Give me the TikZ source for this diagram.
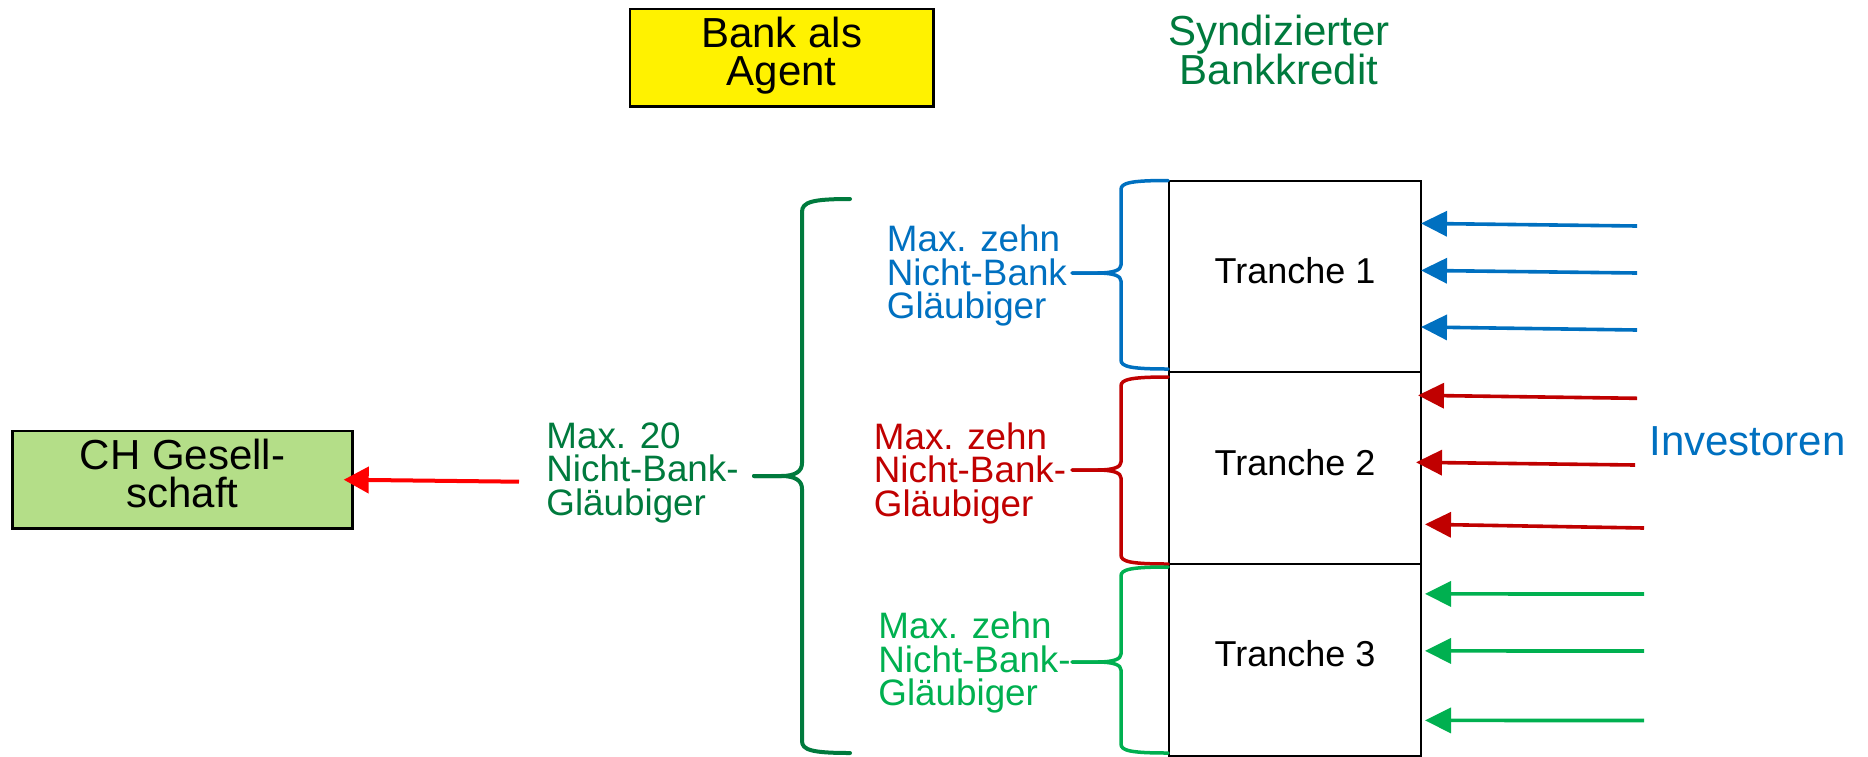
\documentclass[tikz,border=0pt]{standalone}
\usepackage{fontspec}
\setmainfont{Liberation Sans}
\usetikzlibrary{arrows.meta,calc}
\definecolor{dgreen}{RGB}{0,122,61}
\definecolor{lgreen}{RGB}{0,176,80}
\definecolor{tblue}{RGB}{0,112,192}
\definecolor{dred}{RGB}{192,0,0}
\definecolor{boxgreen}{RGB}{180,222,136}
\lineskiplimit=-\maxdimen
% curly brace opening to the right: colour, top y, tip y, bottom y
\newcommand\tranchebrace[4]{%
  \draw[brace,#1] (1168,#2) .. controls (1130,#2) and (1121,#2+2.5) .. (1121,#2+9)
    -- (1121,#3-8) .. controls (1121,#3-3) and (1114,#3) .. (1097,#3) -- (1072,#3);
  \draw[brace,#1] (1072,#3) -- (1097,#3) .. controls (1114,#3) and (1121,#3+3) .. (1121,#3+8)
    -- (1121,#4-9) .. controls (1121,#4-2.5) and (1130,#4) .. (1168,#4);
}
\begin{document}
\begin{tikzpicture}[x=0.5pt,y=-0.5pt,
  small/.style={font=\fontsize{18.4}{16.7}\selectfont, align=left, anchor=base west, inner sep=0pt},
  card/.style={draw=black, line width=1.25pt, inner sep=0pt, outer sep=0pt, align=center,
    font=\fontsize{21}{18.8}\selectfont},
  tranche/.style={draw=black, line width=1pt, minimum width=126pt, minimum height=95.8pt,
    inner sep=0pt, outer sep=0pt, font=\fontsize{18}{18}\selectfont},
  brace/.style={line width=1.75pt, line cap=round, line join=round},
  feed/.style={line width=1.8pt, -{Triangle[length=13pt,width=12.5pt]}},
]
\useasboundingbox (0,0) rectangle (1868,756);

% header boxes and titles
\node[card, fill=yellow, minimum width=151.65pt, minimum height=48.85pt] (bank) at (781.7,57.8)
  {Bank als\\Agent\rule[-6.4pt]{0pt}{6.4pt}};
\node[anchor=base, align=center, inner sep=0pt, text=dgreen,
  font=\fontsize{21}{19.2}\selectfont] (synd) at (1279,84) {Syndizierter\\Bankkredit};

% borrower
\node[card, fill=boxgreen, minimum width=170.2pt, minimum height=48.65pt] (ch) at (182.5,479.7)
  {CH Gesell-\\schaft\rule[-6.35pt]{0pt}{6.35pt}};

% tranches
\node[tranche] (t1) at (1295,276.5) {Tranche 1\rule[-6pt]{0pt}{6pt}};
\node[tranche] (t2) at (1295,468.1) {Tranche 2\rule[-6pt]{0pt}{6pt}};
\node[tranche] (t3) at (1295,659.7) {Tranche 3\rule[-6pt]{0pt}{6pt}};

% creditor labels (anchored at the baseline of their last line)
\node[small, text=dgreen] (all) at (546,515.1) {Max. 20\\Nicht-Bank-\\Gläubiger};
\node[small, text=tblue] (c1) at (886.5,318.4) {Max. zehn\\Nicht-Bank\\Gläubiger};
\node[small, text=dred] (c2) at (873.5,516.1) {Max. zehn\\Nicht-Bank-\\Gläubiger};
\node[small, text=lgreen] (c3) at (878,705.5) {Max. zehn\\Nicht-Bank-\\Gläubiger};
\node[anchor=base west, inner sep=0pt, text=tblue, font=\fontsize{21}{21}\selectfont]
  (inv) at (1649,455) {Investoren};

% braces
\draw[brace, dgreen, line width=2pt] (850,199) .. controls (812,199) and (802,202) .. (802,212)
  -- (802,463) .. controls (802,471) and (796,476) .. (781,476) -- (754,476);
\draw[brace, dgreen, line width=2pt] (754,476) -- (781,476) .. controls (796,476) and (802,481) .. (802,489)
  -- (802,741) .. controls (802,750) and (812,753) .. (850,753);
\tranchebrace{tblue}{180.5}{273}{369}
\tranchebrace{dred}{377}{470}{564}
\tranchebrace{lgreen}{567}{662}{753}

% loan to the borrower
\coordinate (loan) at (519,481.7);
\draw[line width=2pt, red, -{Triangle[length=12.5pt,width=13pt]}] (loan) -- ($(ch.east)+(-9,0)$);

% investor flows into the tranches
\coordinate (b1) at (1637,226);
\coordinate (b2) at (1637,273);
\coordinate (b3) at (1637,330);
\draw[feed, tblue] (b1) -- ($(t1.north east)+(0,42.7)$);
\draw[feed, tblue] (b2) -- ($(t1.north east)+(0,89.7)$);
\draw[feed, tblue] (b3) -- ($(t1.north east)+(0,146.3)$);

\coordinate (r1) at (1637,398.3);
\coordinate (r2) at (1635,465);
\coordinate (r3) at (1644,528);
\draw[feed, dred] (r1) -- ($(t2.north east)+(-3,23)$);
\draw[feed, dred] (r2) -- ($(t2.north east)+(-5,90)$);
\draw[feed, dred] (r3) -- ($(t2.north east)+(4,152)$);

\coordinate (g1) at (1644,594);
\coordinate (g2) at (1644,651);
\coordinate (g3) at (1644,720.5);
\draw[feed, lgreen] (g1) -- ($(t3.north east)+(4,30)$);
\draw[feed, lgreen] (g2) -- ($(t3.north east)+(4,87)$);
\draw[feed, lgreen] (g3) -- ($(t3.north east)+(4,156.5)$);
\end{tikzpicture}
\end{document}
